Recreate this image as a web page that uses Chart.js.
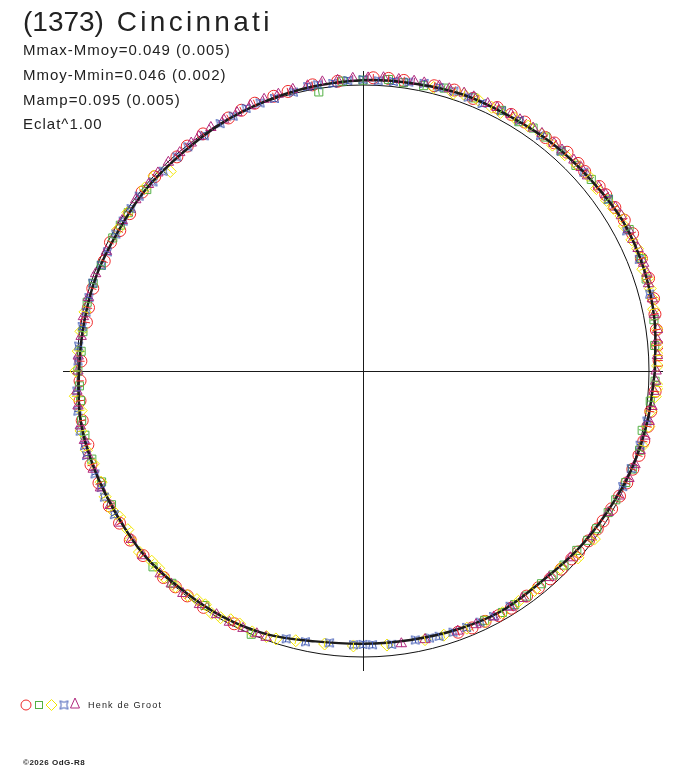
<!DOCTYPE html>
<html>
<head>
<meta charset="utf-8">
<script src="https://cdn.jsdelivr.net/npm/chart.js@4.4.1/dist/chart.umd.min.js"></script>
<style>
  html, body { margin: 0; padding: 0; background: #fff; }
  #wrap { position: relative; width: 688px; height: 768px; overflow: hidden; }
  canvas { position: absolute; left: 0; top: 0; }
  .txt { position: absolute; font-family: "Liberation Sans", Arial, sans-serif; color: #222; white-space: nowrap; }
  #title { left: 23px; top: 8px; font-size: 28px; line-height: 28px; }
  #title .num { margin-right: 5px; }
  #title .name { letter-spacing: 3.3px; }
  #stats { left: 23px; top: 38px; font-size: 15px; line-height: 24.8px; letter-spacing: 1px; }
  #observer { left: 88px; top: 701px; font-size: 9px; line-height: 9px; letter-spacing: 1.2px; }
  #credit { left: 23px; top: 759px; font-size: 8px; line-height: 8px; letter-spacing: 0.5px; font-weight: bold; }
</style>
</head>
<body>
<div id="wrap">
  <canvas id="lc-chart" width="688" height="768"></canvas>
  <div class="txt" id="title"><span class="num">(1373)</span> <span class="name">Cincinnati</span></div>
  <div class="txt" id="stats">
    <div>Mmax-Mmoy=0.049 (0.005)</div>
    <div>Mmoy-Mmin=0.046 (0.002)</div>
    <div>Mamp=0.095 (0.005)</div>
    <div>Eclat^1.00</div>
  </div>
  <div class="txt" id="observer">Henk de Groot</div>
  <div class="txt" id="credit">©2026 OdG-R8</div>
</div>
<script>
// phase angle (deg) and relative deviation from the mean circle (radius = 1)
const FIT_ANGLES = [0, 10, 20, 30, 40, 50, 60, 70, 80, 90, 100, 110, 120, 130, 140, 150, 160, 170,
  180, 190, 200, 210, 220, 230, 240, 250, 260, 270, 280, 290, 300, 310, 320, 330, 340, 350];
const FIT_DEVS = [0.021, 0.035, 0.045, 0.049, 0.040, 0.035, 0.028, 0.028, 0.021, 0.017,
  0.010, 0.003, -0.003, -0.010, -0.010, -0.014, -0.010, -0.010, -0.007, 0.003,
  0.000, -0.003, 0.000, -0.007, -0.010, -0.020, -0.040, -0.046, -0.045, -0.038,
  -0.031, -0.035, -0.024, -0.014, 0.000, 0.010];

const RED_ANGLES = [
  2, 5, 8, 11, 14, 18, 22, 27, 30, 33,
  36, 38, 42, 44, 47, 50, 52, 57, 60, 63,
  68, 72, 76, 82, 85, 88, 95, 100, 105, 108,
  112, 115, 118, 124, 128, 131, 137, 141, 146, 150,
  153, 157, 163, 167, 170, 178, 182, 186, 190, 195,
  199, 203, 208, 212, 216, 220, 226, 229, 232, 236,
  243, 290, 293, 296, 299, 302, 306, 309, 312, 315,
  318, 320, 323, 326, 328, 331, 334, 337, 340, 343,
  346, 349, 352, 356];
const RED_DEVS = [
  0.036, 0.034, 0.036, 0.040, 0.047, 0.050, 0.050, 0.058, 0.055, 0.050,
  0.049, 0.048, 0.043, 0.045, 0.046, 0.041, 0.036, 0.038, 0.036, 0.034,
  0.028, 0.033, 0.028, 0.026, 0.027, 0.026, 0.017, 0.016, 0.012, 0.010,
  0.010, 0.006, 0.002, 0.000, -0.002, -0.008, -0.004, -0.006, -0.016, -0.018,
  -0.009, -0.017, -0.012, -0.015, -0.018, -0.013, -0.010, -0.005, -0.003, -0.004,
  0.006, 0.003, 0.005, 0.004, 0.006, 0.004, 0.004, 0.000, -0.002, -0.003,
  -0.008, -0.028, -0.024, -0.026, -0.022, -0.022, -0.027, -0.025, -0.022, -0.020,
  -0.018, -0.016, -0.013, -0.012, -0.010, -0.006, -0.002, 0.002, 0.004, 0.009,
  0.012, 0.015, 0.016, 0.024];

const GREEN_ANGLES = [
  5, 10, 18, 22, 28, 35, 40, 44, 48, 52,
  55, 58, 62, 68, 74, 78, 82, 85, 90, 94,
  99, 140, 146, 149, 152, 158, 162, 166, 172, 176,
  180, 183, 186, 190, 193, 198, 203, 208, 223, 228,
  236, 247, 296, 300, 303, 306, 310, 313, 316, 320,
  323, 326, 330, 333, 337, 340, 344, 348, 354, 358];
const GREEN_DEVS = [
  0.024, 0.033, 0.041, 0.050, 0.054, 0.048, 0.042, 0.035, 0.035, 0.038,
  0.037, 0.028, 0.032, 0.030, 0.029, 0.020, 0.018, 0.023, 0.017, 0.016,
  -0.012, -0.013, -0.010, -0.010, -0.009, -0.013, -0.008, -0.006, -0.011, -0.012,
  -0.003, -0.007, -0.007, -0.001, -0.002, -0.003, -0.007, -0.004, 0.004, -0.001,
  -0.011, 0.000, -0.030, -0.025, -0.026, -0.027, -0.029, -0.025, -0.023, -0.024,
  -0.016, -0.014, -0.010, -0.008, -0.002, 0.002, 0.006, -0.002, 0.010, 0.022];

const YELLOW_ANGLES = [
  1, 3, 5, 8, 12, 14, 16, 18, 20, 22,
  24, 26, 29, 31, 33, 35, 38, 41, 44, 47,
  50, 53, 56, 59, 62, 64, 67, 70, 72, 76,
  134, 137, 140, 146, 150, 168, 172, 176, 180, 185,
  188, 192, 196, 199, 203, 206, 209, 211, 214, 216,
  219, 222, 224, 226, 229, 232, 234, 236, 238, 240,
  242, 244, 247, 250, 252, 256, 262, 268, 275, 283,
  287, 292, 296, 300, 304, 308, 315, 319, 324, 345,
  349, 352, 355, 357];
const YELLOW_DEVS = [
  0.030, 0.036, 0.036, 0.040, 0.039, 0.044, 0.045, 0.047, 0.041, 0.050,
  0.051, 0.046, 0.045, 0.052, 0.044, 0.040, 0.036, 0.042, 0.039, 0.034,
  0.031, 0.037, 0.033, 0.031, 0.024, 0.026, 0.030, 0.030, 0.021, 0.022,
  -0.030, 0.000, -0.004, -0.008, -0.010, -0.006, -0.004, -0.002, 0.004, 0.010,
  -0.005, 0.008, 0.006, -0.003, -0.005, 0.003, 0.003, -0.008, -0.008, 0.004,
  0.006, -0.006, -0.007, 0.002, 0.000, -0.004, -0.012, -0.014, -0.001, -0.004,
  -0.015, -0.016, -0.009, -0.012, -0.015, -0.028, -0.036, -0.038, -0.038, -0.036,
  -0.034, -0.030, -0.026, -0.024, -0.028, -0.026, -0.024, -0.004, 0.000, 0.012,
  0.018, 0.016, 0.026, 0.036];

const BLUE_ANGLES = [
  15, 22, 28, 35, 42, 48, 53, 58, 62, 66,
  69, 72, 75, 78, 81, 84, 87, 90, 93, 96,
  99, 101, 104, 108, 111, 114, 117, 120, 124, 128,
  131, 135, 138, 142, 145, 148, 151, 155, 158, 162,
  165, 168, 171, 175, 178, 184, 188, 192, 195, 197,
  201, 204, 206, 210, 254, 258, 263, 268, 270, 272,
  276, 281, 284, 286, 289, 292, 295, 298, 302, 336,
  340, 345, 350];
const BLUE_DEVS = [
  0.038, 0.042, 0.044, 0.046, 0.039, 0.035, 0.031, 0.033, 0.030, 0.024,
  0.026, 0.029, 0.026, 0.028, 0.023, 0.018, 0.016, 0.019, 0.017, 0.011,
  0.013, 0.013, 0.005, 0.002, 0.004, 0.005, 0.000, -0.001, -0.008, -0.005,
  -0.008, -0.012, -0.012, -0.007, -0.010, -0.011, -0.012, -0.014, -0.013, -0.006,
  -0.008, -0.010, -0.006, -0.002, -0.003, 0.003, 0.007, 0.011, 0.008, 0.011,
  0.004, 0.002, 0.006, 0.004, -0.026, -0.032, -0.042, -0.042, -0.044, -0.042,
  -0.039, -0.042, -0.038, -0.035, -0.034, -0.033, -0.031, -0.028, -0.030, -0.006,
  -0.002, 0.003, 0.008];

const MAGENTA_ANGLES = [
  0, 3, 6, 8, 11, 14, 17, 19, 21, 24,
  26, 28, 31, 33, 36, 38, 41, 43, 45, 48,
  50, 53, 55, 58, 60, 63, 65, 68, 70, 73,
  75, 78, 80, 83, 86, 89, 92, 95, 98, 101,
  104, 107, 110, 113, 116, 119, 122, 125, 127, 130,
  133, 136, 139, 143, 148, 155, 160, 165, 169, 173,
  177, 180, 184, 187, 191, 194, 197, 200, 204, 208,
  212, 216, 220, 225, 228, 231, 235, 239, 242, 245,
  248, 250, 278, 283, 290, 294, 298, 302, 305, 312,
  318, 324, 330, 334, 338, 341, 344, 347, 350, 353,
  356, 358];
const MAGENTA_DEVS = [
  0.025, 0.031, 0.035, 0.040, 0.038, 0.043, 0.044, 0.050, 0.051, 0.053,
  0.050, 0.052, 0.054, 0.052, 0.049, 0.046, 0.040, 0.043, 0.043, 0.040,
  0.039, 0.040, 0.037, 0.036, 0.036, 0.034, 0.032, 0.034, 0.034, 0.032,
  0.032, 0.030, 0.029, 0.027, 0.028, 0.025, 0.024, 0.020, 0.021, 0.016,
  0.015, 0.012, 0.011, 0.008, 0.005, 0.004, 0.004, 0.001, -0.002, -0.003,
  -0.002, -0.003, -0.006, -0.005, -0.007, -0.010, -0.005, -0.006, -0.004, -0.007,
  -0.003, -0.003, 0.003, 0.004, 0.007, 0.004, 0.006, 0.004, 0.005, 0.002,
  0.004, 0.002, 0.005, 0.003, 0.002, 0.001, -0.003, -0.006, -0.005, -0.007,
  -0.009, -0.009, -0.037, -0.036, -0.032, -0.029, -0.026, -0.026, -0.029, -0.028,
  -0.024, -0.014, -0.010, -0.003, 0.003, 0.006, 0.008, 0.012, 0.016, 0.018,
  0.020, 0.024];

// half-length of the radial error bar of each observer series
const SERIES_ERR = [0.013, 0.012, 0.012, 0.012, 0.012];

const COLORS = {
  red: "#ee2a2a",
  green: "#52b043",
  yellow: "#f2e600",
  blue: "#3550b0",
  magenta: "#b0287e",
  fit: "#1c1c1c",
};

const AXIS_LIMIT = 1.049;

function toXY(angles, devs) {
  return angles.map((a, i) => {
    const r = 1 + devs[i];
    const t = (a * Math.PI) / 180;
    return { x: r * Math.cos(t), y: r * Math.sin(t) };
  });
}

// concave square marker used by the fourth series
function makeStarMarker(color) {
  const c = document.createElement("canvas");
  c.width = 11;
  c.height = 11;
  const g = c.getContext("2d");
  g.strokeStyle = color;
  g.lineWidth = 1;
  g.beginPath();
  g.moveTo(1.5, 1.5);
  g.quadraticCurveTo(5.5, 4, 9.5, 1.5);
  g.quadraticCurveTo(7, 5.5, 9.5, 9.5);
  g.quadraticCurveTo(5.5, 7, 1.5, 9.5);
  g.quadraticCurveTo(4, 5.5, 1.5, 1.5);
  g.stroke();
  return c;
}

const starMarker = makeStarMarker(COLORS.blue);

function markerSet(label, angles, devs, err, style, radius, color) {
  return {
    label,
    data: toXY(angles, devs),
    angles,
    devs,
    err,
    pointStyle: style,
    pointRadius: radius,
    pointBorderWidth: 1,
    pointBorderColor: color,
    pointBackgroundColor: "transparent",
    borderColor: color,
    showLine: false,
  };
}

const fitData = toXY(FIT_ANGLES, FIT_DEVS);
fitData.push(fitData[0]);

const refCircle = {
  id: "refCircle",
  beforeDatasetsDraw(chart) {
    const { ctx, scales: { x, y } } = chart;
    const cx = x.getPixelForValue(0);
    const cy = y.getPixelForValue(0);
    const r = x.getPixelForValue(1) - cx;
    ctx.save();
    ctx.strokeStyle = "#111";
    ctx.lineWidth = 1;
    ctx.beginPath();
    ctx.arc(cx, cy, r, 0, Math.PI * 2);
    ctx.stroke();
    ctx.restore();
  },
};

// radial error bars through each observation
const radialErrors = {
  id: "radialErrors",
  afterDatasetsDraw(chart) {
    const { ctx, scales: { x, y } } = chart;
    ctx.save();
    ctx.lineWidth = 1;
    chart.data.datasets.forEach((ds) => {
      if (!ds.err) return;
      ctx.strokeStyle = ds.borderColor;
      ds.angles.forEach((a, i) => {
        const t = (a * Math.PI) / 180;
        const r0 = 1 + ds.devs[i] - ds.err;
        const r1 = 1 + ds.devs[i] + ds.err;
        ctx.beginPath();
        ctx.moveTo(x.getPixelForValue(r0 * Math.cos(t)), y.getPixelForValue(r0 * Math.sin(t)));
        ctx.lineTo(x.getPixelForValue(r1 * Math.cos(t)), y.getPixelForValue(r1 * Math.sin(t)));
        ctx.stroke();
      });
    });
    ctx.restore();
  },
};

// observer key at bottom left
const observerKey = {
  id: "observerKey",
  afterDraw(chart) {
    const ctx = chart.ctx;
    const cy = 705;
    ctx.save();
    ctx.lineWidth = 1;
    ctx.strokeStyle = COLORS.red;
    ctx.beginPath();
    ctx.arc(26, cy, 5, 0, Math.PI * 2);
    ctx.stroke();
    ctx.strokeStyle = COLORS.green;
    ctx.strokeRect(35.5, cy - 3.5, 7, 7);
    ctx.strokeStyle = COLORS.yellow;
    ctx.beginPath();
    ctx.moveTo(51.5, cy - 5.5);
    ctx.lineTo(57, cy);
    ctx.lineTo(51.5, cy + 5.5);
    ctx.lineTo(46, cy);
    ctx.closePath();
    ctx.stroke();
    ctx.drawImage(starMarker, 64 - 5.5, cy - 5.5);
    ctx.strokeStyle = COLORS.magenta;
    ctx.beginPath();
    ctx.moveTo(75, cy - 7);
    ctx.lineTo(79.5, cy + 3);
    ctx.lineTo(70.5, cy + 3);
    ctx.closePath();
    ctx.stroke();
    ctx.restore();
  },
};

const axisOptions = {
  type: "linear",
  min: -AXIS_LIMIT,
  max: AXIS_LIMIT,
  border: { display: false },
  ticks: { display: false, stepSize: 0.5 },
  grid: {
    drawTicks: false,
    lineWidth: 1,
    color: (c) => (c.tick && Math.abs(c.tick.value) < 1e-9 ? "#1a1a1a" : "transparent"),
  },
};

new Chart(document.getElementById("lc-chart").getContext("2d"), {
  type: "scatter",
  data: {
    datasets: [
      {
        label: "fit",
        data: fitData,
        showLine: true,
        borderColor: COLORS.fit,
        borderWidth: 2.5,
        pointRadius: 0,
        tension: 0.35,
        fill: false,
      },
      markerSet("magenta", MAGENTA_ANGLES, MAGENTA_DEVS, SERIES_ERR[4], "triangle", 6, COLORS.magenta),
      markerSet("blue", BLUE_ANGLES, BLUE_DEVS, SERIES_ERR[3], starMarker, 5, COLORS.blue),
      markerSet("yellow", YELLOW_ANGLES, YELLOW_DEVS, SERIES_ERR[2], "rectRot", 6, COLORS.yellow),
      markerSet("green", GREEN_ANGLES, GREEN_DEVS, SERIES_ERR[1], "rect", 5.7, COLORS.green),
      markerSet("red", RED_ANGLES, RED_DEVS, SERIES_ERR[0], "circle", 6, COLORS.red),
    ],
  },
  options: {
    responsive: false,
    devicePixelRatio: 1,
    animation: false,
    layout: { padding: { left: 63, right: 25, top: 71, bottom: 97 } },
    plugins: {
      legend: { display: false },
      tooltip: { enabled: false },
      title: { display: false },
    },
    scales: { x: axisOptions, y: axisOptions },
  },
  plugins: [refCircle, radialErrors, observerKey],
});
</script>
</body>
</html>
